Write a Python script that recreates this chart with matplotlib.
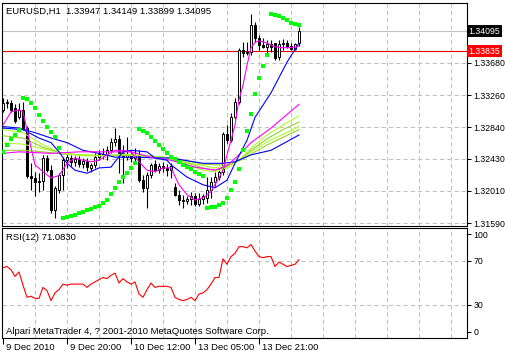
import numpy as np
import matplotlib
matplotlib.use("Agg")
import matplotlib.pyplot as plt
from matplotlib.transforms import blended_transform_factory, offset_copy

plt.rcParams["font.family"] = ["Liberation Sans", "DejaVu Sans"]
plt.rcParams["font.size"] = 6.8

# ---- data (EURUSD H1) ----
opens = [1.3307, 1.3316, 1.3316, 1.3309, 1.3298, 1.3307, 1.3283, 1.3221, 1.3218, 1.3213,
         1.3214, 1.3244, 1.3228, 1.3176, 1.3202, 1.3222, 1.3241, 1.3244, 1.3239, 1.3243,
         1.3236, 1.3240, 1.3231, 1.3235, 1.3245, 1.3249, 1.3248, 1.3254, 1.3265, 1.3269,
         1.3250, 1.3245, 1.3248, 1.3244, 1.3248, 1.3215, 1.3205, 1.3222, 1.3236, 1.3228,
         1.3234, 1.3231, 1.3228, 1.3206, 1.3196, 1.3189, 1.3188, 1.3190, 1.3194, 1.3184,
         1.3190, 1.3192, 1.3202, 1.3213, 1.3219, 1.3226, 1.3275, 1.3268, 1.3298, 1.3317,
         1.3385, 1.3381, 1.3382, 1.3418, 1.3401, 1.3392, 1.3389, 1.3393, 1.3394, 1.3376,
         1.3393, 1.3394, 1.3390, 1.3386, 1.33947]
highs = [1.3322, 1.3321, 1.3320, 1.3315, 1.3316, 1.3317, 1.3286, 1.3237, 1.3226, 1.3224,
         1.3248, 1.3248, 1.3235, 1.3207, 1.3224, 1.3245, 1.3250, 1.3248, 1.3247, 1.3247,
         1.3244, 1.3244, 1.3237, 1.3250, 1.3254, 1.3257, 1.3260, 1.3270, 1.3283, 1.3274,
         1.3261, 1.3271, 1.3254, 1.3257, 1.3254, 1.3222, 1.3226, 1.3237, 1.3241, 1.3237,
         1.3239, 1.3236, 1.3237, 1.3211, 1.3202, 1.3196, 1.3194, 1.3200, 1.3198, 1.3198,
         1.3197, 1.3219, 1.3219, 1.3226, 1.3231, 1.3278, 1.3287, 1.3303, 1.3322, 1.3388,
         1.3395, 1.3395, 1.3432, 1.3422, 1.3405, 1.3401, 1.3398, 1.3398, 1.3394, 1.3398,
         1.3399, 1.3398, 1.3394, 1.3394, 1.34149]
lows = [1.3304, 1.3309, 1.3304, 1.3290, 1.3295, 1.3281, 1.3218, 1.3202, 1.3194, 1.3200,
        1.3202, 1.3226, 1.3172, 1.3166, 1.3198, 1.3202, 1.3231, 1.3234, 1.3234, 1.3232,
        1.3231, 1.3227, 1.3226, 1.3231, 1.3241, 1.3243, 1.3241, 1.3250, 1.3260, 1.3224,
        1.3211, 1.3241, 1.3239, 1.3240, 1.3213, 1.3200, 1.3179, 1.3218, 1.3226, 1.3224,
        1.3226, 1.3221, 1.3218, 1.3194, 1.3183, 1.3179, 1.3184, 1.3183, 1.3181, 1.3181,
        1.3184, 1.3185, 1.3192, 1.3207, 1.3215, 1.3222, 1.3264, 1.3265, 1.3295, 1.3315,
        1.3376, 1.3379, 1.3379, 1.3395, 1.3385, 1.3388, 1.3381, 1.3382, 1.3372, 1.3372,
        1.3385, 1.3388, 1.3385, 1.3385, 1.33899]
closes = [1.3316, 1.3317, 1.3307, 1.3292, 1.3307, 1.3283, 1.3221, 1.3218, 1.3213, 1.3214,
          1.3244, 1.3228, 1.3176, 1.3205, 1.3222, 1.3241, 1.3245, 1.3239, 1.3243, 1.3236,
          1.3240, 1.3232, 1.3235, 1.3245, 1.3249, 1.3248, 1.3254, 1.3265, 1.3269, 1.3250,
          1.3245, 1.3249, 1.3244, 1.3248, 1.3215, 1.3205, 1.3222, 1.3235, 1.3228, 1.3234,
          1.3231, 1.3228, 1.3234, 1.3196, 1.3189, 1.3188, 1.3190, 1.3194, 1.3184, 1.3190,
          1.3194, 1.3202, 1.3213, 1.3219, 1.3226, 1.3275, 1.3268, 1.3298, 1.3317, 1.3385,
          1.3381, 1.3382, 1.3418, 1.3401, 1.3392, 1.3389, 1.3393, 1.3389, 1.3375, 1.3393,
          1.3394, 1.3390, 1.3386, 1.3393, 1.34095]

sar = [1.3252, 1.3261, 1.3269, 1.3274, 1.3281, 1.3322, 1.3321, 1.3316, 1.3309, 1.3300,
       1.3292, 1.3284, 1.3278, 1.3271, 1.3257, 1.3166, 1.3167, 1.3168, 1.3170, 1.3172,
       1.3174, 1.3176, 1.3177, 1.3180, 1.3181, 1.3185, 1.3189, 1.3197, 1.3205, 1.3213,
       1.3219, 1.3224, 1.3231, 1.3237, 1.3282, 1.3279, 1.3276, 1.3271, 1.3266, 1.3261,
       1.3256, 1.3250, 1.3245, 1.3243, 1.3239, 1.3235, 1.3232, 1.3230, 1.3226, 1.3223,
       1.3220, 1.3179, 1.3180, 1.3180, 1.3183, 1.3185, 1.3192, 1.3202, 1.3213, 1.3230,
       1.3254, 1.3279, 1.3301, 1.3327, 1.3348, 1.3364, 1.3378, 1.3432, 1.3431, 1.3429,
       1.3427, 1.3424, 1.3420, 1.3419, 1.3418]

rsi_vals = [64, 65, 62, 56, 60, 48, 37, 38, 36, 36, 46, 43, 34, 41, 44, 49, 48, 49, 49, 49,
            49, 46, 49, 51, 53, 55, 54, 57, 59, 50, 54, 51, 49, 51, 40, 37, 44, 50, 46, 47,
            47, 47, 46, 37, 35, 34, 35, 37, 34, 40, 41, 44, 49, 55, 55, 72, 67, 74, 77, 83,
            83, 82, 85, 79, 74, 73, 74, 74, 65, 69, 67, 65, 66, 67, 71.083]

# moving averages, sampled at bar numbers
mag_fast_k = [0, 2, 4, 5, 6, 8, 10, 12, 14, 16, 18, 20, 22, 24, 26, 28, 30, 32, 34, 36, 38,
              40, 42, 44, 46, 48, 50, 52, 54, 55, 56, 57, 58, 59, 60, 61, 62, 63, 64, 66, 68,
              70, 72, 74]
mag_fast = [1.3287, 1.3304, 1.3307, 1.3304, 1.3281, 1.3235, 1.3226, 1.3218, 1.3221, 1.3237,
            1.3244, 1.3241, 1.3239, 1.3241, 1.3248, 1.3254, 1.3254, 1.3252, 1.3239, 1.3228,
            1.3226, 1.3231, 1.3231, 1.3209, 1.3196, 1.3189, 1.3192, 1.3200, 1.3218, 1.3228,
            1.3248, 1.3267, 1.3287, 1.3320, 1.3339, 1.3365, 1.3388, 1.3395, 1.3397, 1.3394,
            1.3389, 1.3388, 1.3388, 1.3390]
blue_fast_k = [0, 5, 9, 12, 14, 16, 18, 21, 24, 27, 28, 30, 32, 36, 38, 41, 42, 46, 50, 53,
               56, 58, 61, 63, 67, 71, 74]
blue_fast = [1.3283, 1.3281, 1.3270, 1.3264, 1.3252, 1.3237, 1.3228, 1.3224, 1.3231, 1.3232,
             1.3239, 1.3252, 1.3254, 1.3252, 1.3244, 1.3241, 1.3235, 1.3219, 1.3209, 1.3205,
             1.3215, 1.3237, 1.3267, 1.3297, 1.3329, 1.3369, 1.3394]
blue_slow_k = [0, 4, 8, 12, 16, 20, 24, 28, 34, 38, 42, 50, 55, 58, 62, 67, 74]
blue_slow = [1.3285, 1.3283, 1.3277, 1.3270, 1.3264, 1.3254, 1.3250, 1.3245, 1.3245, 1.3244,
             1.3244, 1.3237, 1.3237, 1.3239, 1.3248, 1.3254, 1.3274]
mag_slow_k = [0, 4, 12, 19, 27, 32, 37, 42, 48, 53, 56, 59, 62, 67, 74]
mag_slow = [1.3250, 1.3252, 1.3250, 1.3252, 1.3252, 1.3252, 1.3245, 1.3241, 1.3232, 1.3228,
            1.3234, 1.3248, 1.3264, 1.3283, 1.3314]
green_k = [0, 5, 10, 15, 20, 25, 30, 35, 40, 45, 50, 53, 56, 59, 62, 66, 70, 74]
green1 = [1.3281, 1.3277, 1.3261, 1.3250, 1.3247, 1.3247, 1.3249, 1.3247, 1.3245, 1.3237,
          1.3228, 1.3226, 1.3231, 1.3241, 1.3257, 1.3274, 1.3287, 1.3299]
green2 = [1.3273, 1.3270, 1.3258, 1.3250, 1.3247, 1.3247, 1.3248, 1.3247, 1.3245, 1.3239,
          1.3231, 1.3228, 1.3232, 1.3241, 1.3254, 1.3269, 1.3281, 1.3291]
green3 = [1.3264, 1.3262, 1.3256, 1.3250, 1.3248, 1.3247, 1.3248, 1.3247, 1.3245, 1.3240,
          1.3234, 1.3231, 1.3234, 1.3240, 1.3252, 1.3265, 1.3275, 1.3285]
green4 = [1.3254, 1.3254, 1.3252, 1.3249, 1.3248, 1.3247, 1.3247, 1.3247, 1.3245, 1.3241,
          1.3236, 1.3235, 1.3235, 1.3240, 1.3249, 1.3261, 1.3271, 1.3281]

price_ticks = [1.31590, 1.32010, 1.32430, 1.32840, 1.33260, 1.33680]
bid_price = 1.34095
line_price = 1.33835
date_ticks = [0, 16, 32, 48, 64]
date_labels = ["9 Dec 2010", "9 Dec 20:00", "10 Dec 12:00", "13 Dec 05:00", "13 Dec 21:00"]
header = "EURUSD,H1  1.33947 1.34149 1.33899 1.34095"
rsi_title = "RSI(12) 71.0830"
footer = "Alpari MetaTrader 4, ? 2001-2010 MetaQuotes Software Corp."

# ---- figure ----
W, H = 505, 355
fig = plt.figure(figsize=(W / 100, H / 100), dpi=100)
fig.patch.set_facecolor("white")
ax = fig.add_axes([2 / W, 1 - 225.5 / H, 465 / W, 223 / H])
rx = fig.add_axes([2 / W, 1 - 338 / H, 465 / W, 110 / H])

grid_col = "#c0c0c0"
lab_size = 6.3
for a in (ax, rx):
    a.set_xlim(-0.25, 116)
    for s in a.spines.values():
        s.set_linewidth(0.8)
        s.set_color("black")
    for g in np.arange(8, 116, 8):
        a.axvline(g, color=grid_col, lw=0.75, dashes=(4, 3), zorder=0)
    a.yaxis.tick_right()
    a.tick_params(axis="y", direction="out", length=3, width=0.75, pad=1.5,
                  labelsize=lab_size, colors="black")

# main price panel
ax.set_ylim(1.31558, 1.34470)
ax.set_yticks(price_ticks)
ax.set_yticklabels([f"{p:.5f}" for p in price_ticks])
ax.tick_params(axis="x", bottom=False, labelbottom=False)
for p in price_ticks:
    ax.axhline(p, color=grid_col, lw=0.75, dashes=(4, 3), zorder=0)
ax.axhline(bid_price, color=grid_col, lw=0.8, zorder=1)
ax.axhline(line_price, color="#e00000", lw=0.8, zorder=1)

bars = np.arange(len(opens))
o = np.array(opens); c = np.array(closes)
up = c >= o
ax.vlines(bars, lows, highs, color="black", lw=0.8, zorder=3)
ax.bar(bars, np.maximum(np.abs(c - o), 0.00001), bottom=np.minimum(o, c), width=0.55,
       color=np.where(up, "white", "black"), edgecolor="black", lw=0.7, zorder=4)

for xs, ys, col in [(green_k, green4, "#9acd32"), (green_k, green3, "#adff2f"),
                    (green_k, green2, "#9acd32"), (green_k, green1, "#adff2f"),
                    (blue_slow_k, blue_slow, "#0000ff"), (mag_slow_k, mag_slow, "#ff00ff"),
                    (blue_fast_k, blue_fast, "#0000ff"), (mag_fast_k, mag_fast, "#ff00ff")]:
    ax.plot(xs, ys, color=col, lw=0.8, zorder=5)

ax.plot(bars, sar, "s", color="#00ff00", ms=2.4, mew=0, zorder=6)

tr = blended_transform_factory(ax.transAxes, ax.transData)
ax.text(1.003, bid_price, f"{bid_price:.5f}", transform=tr, ha="left", va="center",
        color="white", clip_on=False, fontsize=lab_size,
        bbox=dict(boxstyle="square,pad=0.2", fc="black", ec="none"))
ax.text(1.003, line_price, f"{line_price:.5f}", transform=tr, ha="left", va="center",
        color="white", clip_on=False, fontsize=lab_size,
        bbox=dict(boxstyle="square,pad=0.2", fc="#ff0000", ec="none"))
fig.text(6 / W, 1 - 11.5 / H, header, ha="left", va="center")

# RSI panel
rx.set_ylim(0, 100)
rx.set_yticks([5.7, 30, 70, 94.3])
rx.set_yticklabels(["0", "30", "70", "100"])
for lv in (30, 70):
    rx.axhline(lv, color=grid_col, lw=0.75, dashes=(4, 3), zorder=0)
rx.plot(bars, rsi_vals, color="#ff0000", lw=0.8, zorder=3)
rx.set_xticks(date_ticks)
rx.set_xticklabels([])
rx.tick_params(axis="x", direction="out", length=4, width=0.75)
trx = blended_transform_factory(rx.transData, rx.transAxes)
trx = offset_copy(trx, fig=fig, x=2.5, y=-5, units="dots")
for k, lab in zip(date_ticks, date_labels):
    rx.text(k, 0, lab, transform=trx, ha="left", va="top", clip_on=False)
fig.text(6 / W, 1 - 238 / H, rsi_title, ha="left", va="center")
fig.text(6 / W, 1 - 331 / H, footer, ha="left", va="center")

fig.savefig("out.png", dpi=100, facecolor="white")
